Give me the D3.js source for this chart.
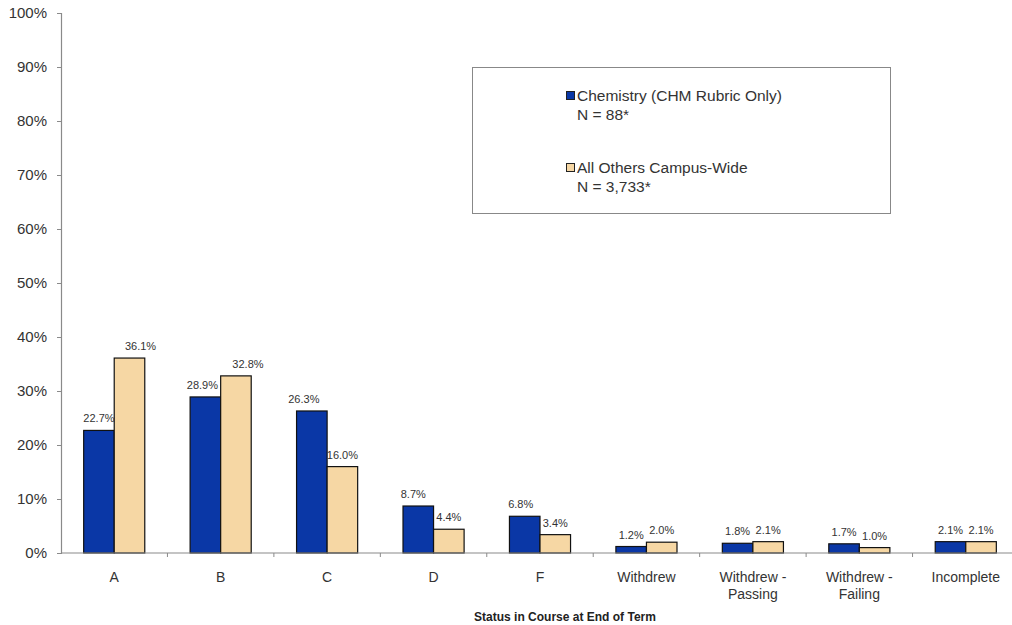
<!DOCTYPE html>
<html>
<head>
<meta charset="utf-8">
<script src="https://cdn.jsdelivr.net/npm/d3@7"></script>
<style>
  html, body { margin: 0; padding: 0; background: #fff; }
  svg { display: block; font-family: "Liberation Sans", Arial, sans-serif; }
</style>
</head>
<body>
<svg id="chart" width="1012" height="625"></svg>
<script>
// Final course status, Chemistry vs. rest of campus
const categories = ["A", "B", "C", "D", "F", "Withdrew", "Withdrew - Passing", "Withdrew - Failing", "Incomplete"];
const chemistry = [22.7, 28.9, 26.3, 8.7, 6.8, 1.2, 1.8, 1.7, 2.1];
const allOthers = [36.1, 32.8, 16.0, 4.4, 3.4, 2.0, 2.1, 1.0, 2.1];
const yTicks = [0, 10, 20, 30, 40, 50, 60, 70, 80, 90, 100];
const seriesNames = ["Chemistry (CHM Rubric Only)", "All Others Campus-Wide"];
const seriesNotes = ["N = 88*", "N = 3,733*"];
const xTitle = "Status in Course at End of Term";

const colors = ["#0a37a6", "#f6d7a4"];
// horizontal nudges for a few value labels so they do not collide
const labelShift = [[0, 11], [-3, 12], [-8, 0], [-5, 0], [-4, 0], [0, 0], [0, 0], [0, 0], [0, 0]];

const svg = d3.select("#chart");
const plotLeft = 61, plotRight = 1019, plotTop = 13, plotBottom = 553;

const x = d3.scaleBand().domain(categories).range([plotLeft, plotRight]);
const y = d3.scaleLinear().domain([0, 100]).range([plotBottom, plotTop]);
const barW = x.bandwidth() * 0.287;

// y axis
const yAxis = d3.axisLeft(y).tickValues(yTicks).tickFormat(d => d + "%").tickSize(4).tickPadding(10);
const gy = svg.append("g").attr("transform", `translate(${plotLeft},0)`).call(yAxis);
gy.select(".domain").attr("stroke", "#8a8a8a").attr("stroke-width", 1.2);
gy.selectAll(".tick line").attr("stroke", "#8a8a8a");
gy.selectAll(".tick text").attr("font-size", 15).attr("fill", "#333").attr("font-family", "Liberation Sans, Arial, sans-serif");

// bars
const groups = svg.append("g").selectAll("g").data(categories).join("g")
  .attr("transform", d => `translate(${x(d) + x.bandwidth() / 2},0)`);

[chemistry, allOthers].forEach((vals, s) => {
  groups.append("rect")
    .attr("x", s === 0 ? -barW : 0)
    .attr("y", (d, i) => y(vals[i]))
    .attr("width", barW)
    .attr("height", (d, i) => plotBottom - y(vals[i]))
    .attr("fill", colors[s])
    .attr("stroke", "#111")
    .attr("stroke-width", 1.2);
});

// value labels
[chemistry, allOthers].forEach((vals, s) => {
  groups.append("text")
    .attr("x", (d, i) => (s === 0 ? -barW / 2 : barW / 2) + labelShift[i][s])
    .attr("y", (d, i) => y(vals[i]) - 8)
    .attr("text-anchor", "middle")
    .attr("font-size", 11)
    .attr("fill", "#333")
    .text((d, i) => vals[i].toFixed(1) + "%");
});

// x axis line and category separators
svg.append("line").attr("x1", plotLeft).attr("x2", plotRight).attr("y1", plotBottom).attr("y2", plotBottom)
  .attr("stroke", "#8a8a8a").attr("stroke-width", 1.2);
svg.append("g").selectAll("line").data(categories.slice(1)).join("line")
  .attr("x1", d => x(d)).attr("x2", d => x(d))
  .attr("y1", plotBottom).attr("y2", plotBottom + 4)
  .attr("stroke", "#8a8a8a");

// category labels (wrapped on " - ")
svg.append("g").selectAll("text").data(categories).join("text")
  .attr("x", d => x(d) + x.bandwidth() / 2)
  .attr("y", 582)
  .attr("text-anchor", "middle")
  .attr("font-size", 14)
  .attr("fill", "#333")
  .each(function(d) {
    const parts = d.includes(" - ") ? [d.split(" - ")[0] + " -", d.split(" - ")[1]] : [d];
    parts.forEach((p, k) => {
      d3.select(this).append("tspan")
        .attr("x", x(d) + x.bandwidth() / 2)
        .attr("dy", k === 0 ? 0 : 17)
        .text(p);
    });
  });

// axis title
svg.append("text")
  .attr("x", 565).attr("y", 621)
  .attr("text-anchor", "middle")
  .attr("font-size", 12).attr("font-weight", "bold").attr("fill", "#222")
  .text(xTitle);

// legend
const legend = svg.append("g");
legend.append("rect").attr("x", 472.5).attr("y", 67.5).attr("width", 418).attr("height", 146)
  .attr("fill", "#fff").attr("stroke", "#888").attr("stroke-width", 1);
seriesNames.forEach((name, s) => {
  const ly = 101 + s * 72;
  legend.append("rect").attr("x", 566.5).attr("y", ly - 9.5).attr("width", 8).attr("height", 8)
    .attr("fill", colors[s]).attr("stroke", "#222").attr("stroke-width", 1);
  legend.append("text").attr("x", 577).attr("y", ly).attr("font-size", 15.5).attr("fill", "#333").text(name);
  legend.append("text").attr("x", 577).attr("y", ly + 19).attr("font-size", 15.5).attr("fill", "#333").text(seriesNotes[s]);
});
</script>
</body>
</html>
